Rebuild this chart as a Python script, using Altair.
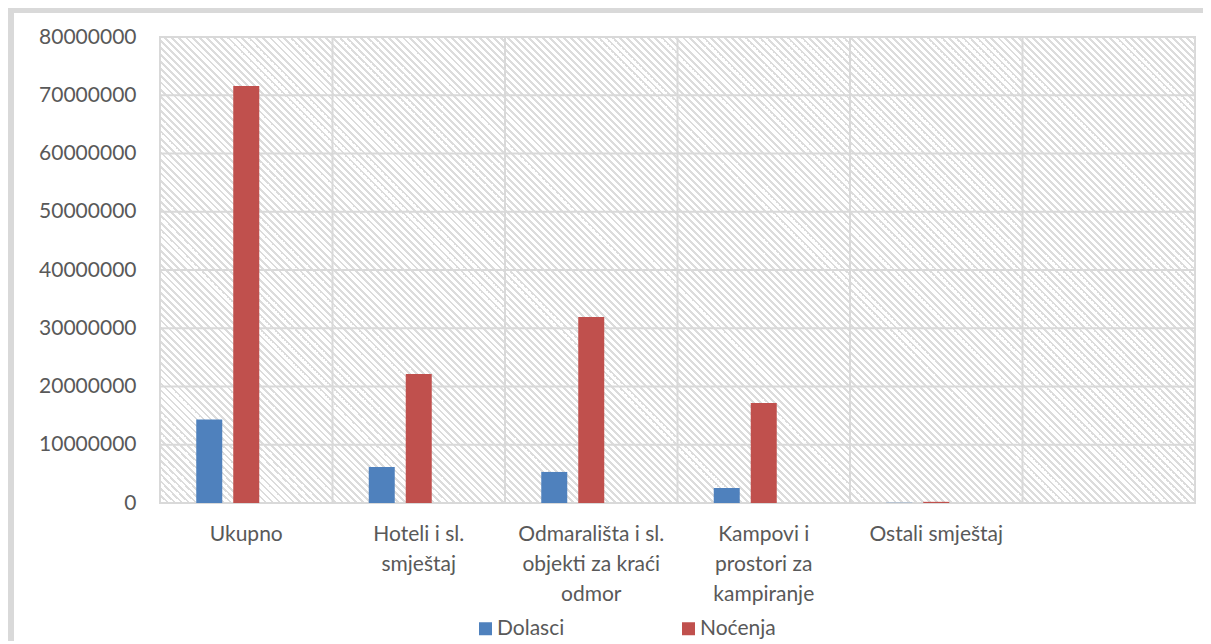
import altair as alt
import pandas as pd

# ---- data ----
categories = [
    "Ukupno",
    "Hoteli i sl.\nsmještaj",
    "Odmarališta i sl.\nobjekti za kraći\nodmor",
    "Kampovi i\nprostori za\nkampiranje",
    "Ostali smještaj",
    "",
]
series = ["Dolasci", "Noćenja"]
dolasci = [14350000, 6180000, 5330000, 2580000, 40000]
nocenja = [71600000, 22150000, 31930000, 17170000, 200000]
y_ticks = [0, 10000000, 20000000, 30000000, 40000000, 50000000, 60000000, 70000000, 80000000]
colors = ["#4f81bd", "#c0504d"]

rows = []
for c, d, n in zip(categories, dolasci, nocenja):
    rows.append({"cat": c, "series": "Dolasci", "val": d})
    rows.append({"cat": c, "series": "Noćenja", "val": n})
df = pd.DataFrame(rows)

W, H = 1035, 466
TXT = "#595959"
GRID = "#d9d9d9"
FONT = "Lato"

xscale = alt.Scale(domain=categories, paddingInner=0, paddingOuter=0)
yscale = alt.Scale(domain=[0, 80000000], nice=False)

xaxis = alt.Axis(
    title=None, labelAngle=0, ticks=False, domain=False, grid=False,
    labelExpr="split(datum.label, '\\n')",
    labelFontSize=21, labelFont=FONT, labelColor=TXT,
    labelPadding=20, labelLineHeight=30, labelLimit=400,
    labelBaseline="top",
)
yaxis = alt.Axis(
    title=None, values=y_ticks, format="d", ticks=False, domain=False, grid=False,
    labelFontSize=21, labelFont=FONT, labelColor=TXT, labelPadding=24,
)

# ---- hatch pattern (decoration) as a striped linear gradient ----
r = H / W
dlen = (1 + r) / (1 + r * r)
L = W + H
period, sw = 7.0, 2.2
stops = []
a = 0.0
while a < L:
    t0 = a / L
    t1 = min((a + sw) / L, 1.0)
    stops += [
        alt.GradientStop(offset=t0, color="rgba(255,255,255,0)"),
        alt.GradientStop(offset=t0, color="#dcdcdc"),
        alt.GradientStop(offset=t1, color="#dcdcdc"),
        alt.GradientStop(offset=t1, color="rgba(255,255,255,0)"),
    ]
    a += period
hatch = alt.Chart(alt.Data(values=[{}])).mark_rect(
    color=alt.LinearGradient(gradient="linear", stops=stops, x1=0, y1=1, x2=dlen, y2=1 - dlen * r)
).encode(x=alt.value(0), x2=alt.value(W), y=alt.value(0), y2=alt.value(H))

# ---- grid lines ----
vgrid = alt.Chart(pd.DataFrame({"cat": categories})).mark_rule(color=GRID, strokeWidth=2).encode(
    x=alt.X("cat:N", bandPosition=0, scale=xscale, sort=categories, axis=xaxis)
)
hgrid = alt.Chart(pd.DataFrame({"val": y_ticks})).mark_rule(color=GRID, strokeWidth=2).encode(
    y=alt.Y("val:Q", scale=yscale, axis=yaxis)
)

# ---- bars ----
bars = alt.Chart(df).mark_bar().encode(
    x=alt.X("cat:N", scale=xscale, sort=categories, axis=xaxis),
    xOffset=alt.XOffset(
        "series:N",
        scale=alt.Scale(domain=series + ["_"], paddingInner=0.2973, paddingOuter=0.98),
    ),
    y=alt.Y("val:Q", scale=yscale, axis=yaxis),
    color=alt.Color(
        "series:N",
        scale=alt.Scale(domain=series, range=colors),
        legend=alt.Legend(
            title=None, orient="none", legendX=315, legendY=581, direction="horizontal",
            symbolType="square", symbolSize=169, symbolStrokeWidth=0,
            labelFontSize=21, labelFont=FONT, labelColor=TXT,
            columnPadding=113, labelOffset=1, padding=0,
        ),
    ),
)

# ---- chart-area border (decoration) ----
border_v = alt.Chart(alt.Data(values=[{}])).mark_rule(color=GRID, strokeWidth=6).encode(
    x=alt.value(-149), y=alt.value(-29), y2=alt.value(H + 140)
)
border_h = alt.Chart(alt.Data(values=[{}])).mark_rule(color=GRID, strokeWidth=5).encode(
    y=alt.value(-26.5), x=alt.value(-152), x2=alt.value(W + 20)
)

chart = alt.layer(hatch, vgrid, hgrid, bars, border_v, border_h).properties(
    width=W, height=H,
    autosize=alt.AutoSizeParams(type="none"),
    padding={"left": 152, "top": 29, "right": 8, "bottom": 138},
).configure_view(stroke=GRID, strokeWidth=2, fill="white")

chart.save("out.html", embed_options={"renderer": "svg", "actions": False})
